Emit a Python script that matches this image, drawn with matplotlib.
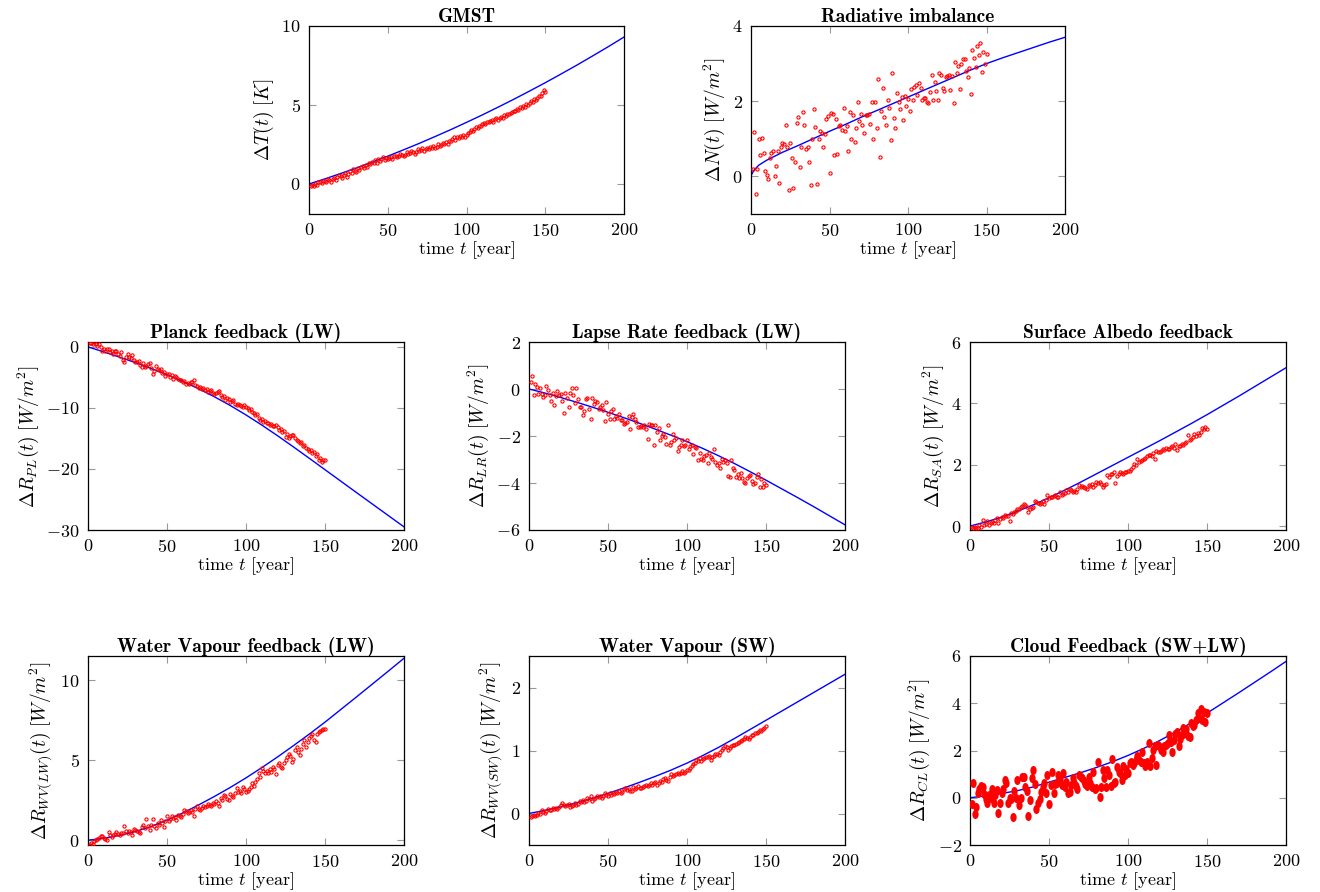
import numpy as np
import matplotlib
matplotlib.use("Agg")
import matplotlib.pyplot as plt
from matplotlib.path import Path

# fonts: computer modern look, shipped with matplotlib
plt.rcParams['font.family'] = 'serif'
plt.rcParams['font.serif'] = ['cmr10']
plt.rcParams['mathtext.fontset'] = 'cm'
plt.rcParams['axes.formatter.use_mathtext'] = True

# years of the scatter data (1..150) and of the model curve
years = np.arange(1, 151)
model_years = np.arange(0, 201, 10)
rad_model_years = [0, 2, 5, 10, 20, 30, 40, 50, 60, 70, 80, 90, 100,
                   110, 120, 130, 140, 150, 160, 170, 180, 190, 200]

# ---- GMST ----
gmst_obs = [-0.15, -0.05, -0.1, 0.0, -0.05, 0.1, 0.15, 0.05, 0.2, 0.2,
            0.15, 0.3, 0.25, 0.1, 0.3, 0.35, 0.25, 0.45, 0.6, 0.5,
            0.35, 0.55, 0.7, 0.45, 0.65, 0.8, 0.7, 0.95, 0.85, 0.75,
            1.0, 0.9, 1.05, 1.15, 1.0, 1.2, 1.1, 1.35, 1.25, 1.4,
            1.3, 1.5, 1.35, 1.6, 1.45, 1.55, 1.7, 1.5, 1.65, 1.6,
            1.65, 1.7, 1.6, 1.75, 1.8, 1.7, 1.8, 1.9, 1.85, 1.8,
            1.85, 2.0, 1.9, 1.95, 2.1, 2.0, 1.9, 2.05, 2.2, 2.1,
            2.15, 2.25, 2.1, 2.2, 2.3, 2.2, 2.35, 2.25, 2.4, 2.3,
            2.35, 2.5, 2.4, 2.45, 2.6, 2.5, 2.65, 2.55, 2.75, 2.7,
            2.85, 2.95, 2.8, 3.0, 2.9, 3.05, 2.95, 3.1, 3.0, 3.1,
            3.2, 3.3, 3.4, 3.35, 3.5, 3.6, 3.55, 3.7, 3.7, 3.8,
            3.85, 3.8, 3.95, 3.9, 4.0, 4.05, 3.95, 4.1, 4.15, 4.05,
            4.2, 4.25, 4.15, 4.35, 4.3, 4.45, 4.4, 4.5, 4.55, 4.65,
            4.6, 4.75, 4.7, 4.85, 4.8, 4.95, 4.9, 5.05, 5.0, 5.15,
            5.25, 5.2, 5.35, 5.3, 5.45, 5.55, 5.6, 5.75, 5.95, 5.85]
gmst_model = [0.0, 0.32, 0.66, 1.01, 1.38, 1.76, 2.16, 2.57, 3.0, 3.44, 3.9,
              4.37, 4.86, 5.36, 5.88, 6.41, 6.96, 7.52, 8.10, 8.69, 9.3]

# ---- radiative imbalance ----
rad_obs = [0.21, 1.18, -0.46, 0.21, 1.0, 0.56, 1.03, 0.62, 0.15, 0.04,
           -0.06, 0.48, 0.63, 0.67, 0.0, 0.28, 0.67, -0.17, 0.78, 0.88,
           0.85, 1.38, 0.77, -0.35, 0.88, 0.49, -0.32, 0.39, 1.41, 1.59,
           0.24, 0.77, 1.7, 1.38, 0.72, 0.77, 0.38, -0.22, 1.0, 1.78,
           1.32, -0.2, 0.99, 1.21, 1.15, 0.78, 1.14, 1.52, 1.6, 0.09,
           1.69, 1.65, 0.56, 1.53, 0.59, 1.34, 1.36, 1.23, 1.81, 1.21,
           1.34, 0.67, 1.71, 0.99, 1.62, 0.92, 1.30, 1.99, 1.47, 1.65,
           1.38, 1.16, 1.64, 1.62, 1.65, 1.40, 1.99, 0.99, 1.98, 1.30,
           2.59, 0.52, 1.73, 2.34, 1.58, 1.38, 2.03, 1.83, 0.98, 2.75,
           1.55, 1.30, 2.23, 1.99, 1.78, 2.11, 1.50, 2.14, 1.88, 2.05,
           1.73, 2.32, 2.04, 2.38, 2.42, 2.16, 2.49, 2.35, 2.04, 2.08,
           2.09, 1.99, 1.94, 2.24, 2.71, 2.03, 2.50, 2.26, 2.03, 2.75,
           2.69, 2.34, 2.26, 2.64, 2.66, 2.70, 2.31, 2.66, 1.94, 3.04,
           2.75, 2.94, 2.33, 2.99, 3.11, 3.12, 2.79, 2.65, 2.87, 2.20,
           3.35, 3.16, 2.91, 3.47, 3.23, 3.54, 2.77, 3.32, 2.98, 3.25]
rad_model = [0.02, 0.17, 0.3, 0.43, 0.64, 0.82, 1.01, 1.2, 1.38, 1.57, 1.75, 1.93,
             2.11, 2.29, 2.47, 2.65, 2.83, 3.0, 3.15, 3.29, 3.43, 3.57, 3.7]

# ---- Planck ----
pl_obs = [0.7, 0.6, 0.55, 0.75, 0.4, 0.2, 0.5, -0.1, -0.65, -0.4,
          -0.75, -0.3, -0.4, -0.9, -0.75, -1.2, -0.6, -0.65, -1.1, -1.45,
          -0.8, -2.2, -2.4, -1.6, -1.2, -1.7, -1.9, -1.3, -2.1, -2.4,
          -2.5, -2.3, -2.9, -3.35, -2.6, -3.35, -3.1, -2.8, -2.7, -3.4,
          -4.4, -3.9, -3.1, -3.6, -3.8, -3.6, -4.3, -4.1, -4.7, -4.5,
          -4.4, -4.9, -4.6, -5.2, -4.8, -5.0, -5.3, -5.5, -5.4, -5.8,
          -5.6, -6.05, -5.9, -6.05, -5.7, -5.8, -5.5, -6.2, -6.4, -6.7,
          -6.6, -6.9, -6.7, -7.1, -6.9, -7.4, -7.2, -7.1, -7.5, -7.7,
          -7.5, -7.4, -7.3, -7.9, -8.2, -8.0, -8.75, -8.4, -8.6, -9.0,
          -8.8, -8.75, -9.3, -9.6, -9.4, -9.6, -9.7, -9.8, -9.5, -9.8,
          -10.0, -10.3, -10.2, -10.65, -10.9, -11.2, -11.0, -11.6, -12.0, -11.8,
          -12.3, -12.1, -12.5, -12.4, -12.8, -12.6, -13.0, -12.9, -12.8, -13.2,
          -13.6, -13.5, -13.9, -13.8, -14.7, -14.3, -15.0, -14.6, -14.5, -14.4,
          -14.9, -15.2, -15.5, -15.8, -15.6, -16.3, -16.0, -16.6, -16.8, -17.0,
          -16.9, -17.4, -17.2, -17.8, -17.6, -18.5, -18.2, -18.8, -18.6, -18.5]
pl_model = [0.0, -0.82, -1.68, -2.58, -3.54, -4.56, -5.66, -6.86, -8.17, -9.6, -11.15,
            -12.81, -14.56, -16.38, -18.24, -20.12, -22.0, -23.88, -25.75, -27.62, -29.49]

# ---- lapse rate ----
lr_obs = [0.31, 0.56, -0.25, 0.21, 0.07, -0.21, 0.04, -0.21, -0.35, -0.25,
          0.11, -0.04, -0.25, -0.52, -0.18, -0.70, -0.28, -0.10, -0.25, -0.21,
          -0.52, -1.03, -0.18, -0.38, -0.75, -0.17, 0.03, -0.24, -0.61, 0.04,
          -0.42, -0.75, -0.75, -1.10, -0.92, -0.42, -0.39, -0.85, -1.27, -0.38,
          -0.65, -0.49, -0.56, -0.85, -0.77, -0.70, -0.89, -1.37, -0.56, -1.06,
          -1.27, -0.92, -0.85, -1.27, -1.13, -1.23, -1.06, -1.34, -1.31, -1.48,
          -1.45, -1.41, -1.13, -1.69, -1.20, -1.08, -1.27, -1.41, -1.62, -1.62,
          -1.59, -1.62, -1.55, -1.69, -2.11, -1.51, -1.55, -1.52, -2.37, -1.55,
          -1.85, -1.65, -2.18, -2.01, -1.93, -2.04, -2.32, -1.55, -2.39, -2.25,
          -1.93, -2.15, -2.07, -2.63, -2.46, -2.39, -2.18, -2.44, -2.39, -2.15,
          -2.55, -2.44, -2.39, -2.75, -2.46, -2.49, -3.03, -2.72, -2.96, -3.03,
          -2.85, -2.82, -3.14, -2.72, -2.89, -2.96, -2.54, -3.10, -3.24, -3.14,
          -3.35, -2.96, -3.10, -3.03, -3.17, -3.70, -3.73, -3.03, -3.38, -3.45,
          -3.75, -3.62, -3.80, -3.59, -3.80, -3.94, -4.01, -3.80, -3.70, -3.66,
          -3.90, -4.04, -3.99, -3.73, -3.62, -4.15, -3.85, -4.18, -3.99, -4.08]
lr_model = [0.0, -0.17, -0.36, -0.56, -0.77, -0.99, -1.22, -1.46, -1.71, -1.97, -2.24,
            -2.53, -2.84, -3.17, -3.52, -3.88, -4.25, -4.62, -5.0, -5.39, -5.78]

# ---- surface albedo ----
sa_obs = [-0.04, -0.05, -0.02, -0.06, -0.08, 0.02, -0.03, 0.19, 0.03, 0.08,
          0.16, 0.03, 0.1, 0.14, 0.11, 0.2, 0.25, 0.11, 0.22, 0.3,
          0.27, 0.36, 0.33, 0.32, 0.17, 0.41, 0.38, 0.46, 0.5, 0.57,
          0.55, 0.63, 0.66, 0.73, 0.68, 0.63, 0.46, 0.57, 0.6, 0.63,
          0.82, 0.78, 0.76, 0.72, 0.76, 0.8, 0.71, 0.86, 1.0, 0.9,
          0.93, 0.95, 0.98, 1.0, 0.96, 0.95, 1.11, 1.02, 1.06, 1.08,
          1.17, 1.12, 1.22, 1.18, 1.11, 1.15, 1.11, 1.2, 1.33, 1.27,
          1.3, 1.27, 1.25, 1.22, 1.33, 1.3, 1.36, 1.27, 1.33, 1.43,
          1.4, 1.43, 1.38, 1.27, 1.35, 1.38, 1.65, 1.6, 1.7, 1.68,
          1.76, 1.4, 1.62, 1.7, 1.76, 1.72, 1.68, 1.75, 1.76, 1.8,
          1.81, 1.86, 1.92, 2.03, 1.98, 2.19, 2.1, 2.11, 2.15, 2.19,
          2.22, 2.27, 2.3, 2.33, 2.28, 2.37, 2.19, 2.46, 2.4, 2.41,
          2.45, 2.51, 2.48, 2.55, 2.5, 2.51, 2.58, 2.62, 2.55, 2.68,
          2.48, 2.62, 2.6, 2.68, 2.65, 2.7, 2.75, 2.98, 2.8, 2.84,
          2.9, 3.0, 2.95, 3.02, 2.98, 3.05, 3.21, 3.16, 3.22, 3.15]
sa_model = [0.0, 0.13, 0.29, 0.48, 0.69, 0.92, 1.17, 1.43, 1.70, 1.97, 2.24,
            2.51, 2.78, 3.06, 3.34, 3.63, 3.93, 4.23, 4.54, 4.85, 5.16]

# ---- water vapour LW ----
wvlw_obs = [-0.27, -0.2, -0.25, -0.06, 0.02, 0.08, 0.15, 0.25, 0.29, 0.14,
            0.1, 0.0, 0.5, 0.3, 0.21, 0.3, 0.41, 0.5, 0.4, 0.35,
            0.45, 0.42, 0.91, 0.6, 0.45, 0.56, 0.5, 0.35, 0.7, 0.62,
            0.56, 0.5, 0.45, 0.8, 0.97, 0.75, 1.32, 0.87, 0.66, 0.95,
            1.32, 0.9, 0.76, 1.05, 0.97, 1.24, 1.1, 0.83, 1.2, 1.49,
            1.18, 1.3, 1.53, 1.38, 1.45, 1.28, 1.59, 1.5, 1.45, 1.62,
            1.9, 1.8, 1.7, 1.74, 1.86, 1.75, 1.53, 1.95, 2.11, 1.94,
            1.9, 2.0, 2.11, 2.05, 2.11, 2.27, 2.2, 2.11, 2.31, 2.25,
            2.42, 2.35, 2.15, 2.62, 2.5, 2.83, 2.77, 2.6, 2.52, 2.89,
            2.75, 2.69, 2.95, 3.24, 3.04, 3.1, 2.93, 3.35, 3.2, 3.04,
            3.1, 3.18, 3.31, 3.55, 3.4, 3.66, 3.85, 4.17, 3.97, 4.48,
            4.3, 4.21, 4.35, 4.21, 4.42, 4.28, 4.59, 4.45, 4.13, 4.69,
            4.79, 4.6, 4.48, 4.85, 5.0, 5.2, 5.37, 5.25, 4.9, 5.1,
            5.66, 5.79, 5.5, 5.31, 5.7, 5.99, 6.24, 5.83, 6.1, 6.4,
            6.5, 6.65, 6.28, 6.14, 6.6, 6.76, 6.8, 6.9, 6.96, 6.96]
wvlw_model = [0.0, 0.12, 0.30, 0.54, 0.86, 1.25, 1.70, 2.20, 2.73, 3.29, 3.89,
              4.53, 5.2, 5.9, 6.62, 7.37, 8.16, 8.95, 9.75, 10.55, 11.36]

# ---- water vapour SW ----
wvsw_obs = [-0.05, -0.04, -0.03, -0.04, -0.02, 0.01, 0.0, 0.05, 0.03, 0.01,
            0.04, 0.07, 0.06, 0.05, 0.09, 0.07, 0.08, 0.07, 0.11, 0.13,
            0.16, 0.14, 0.12, 0.13, 0.15, 0.11, 0.12, 0.14, 0.16, 0.13,
            0.15, 0.2, 0.18, 0.22, 0.19, 0.2, 0.25, 0.23, 0.27, 0.2,
            0.23, 0.25, 0.27, 0.26, 0.28, 0.25, 0.27, 0.32, 0.29, 0.28,
            0.33, 0.3, 0.32, 0.31, 0.34, 0.33, 0.35, 0.32, 0.34, 0.39,
            0.41, 0.37, 0.39, 0.36, 0.35, 0.42, 0.39, 0.4, 0.43, 0.41,
            0.4, 0.42, 0.44, 0.46, 0.43, 0.45, 0.49, 0.46, 0.48, 0.5,
            0.46, 0.49, 0.51, 0.5, 0.54, 0.56, 0.53, 0.51, 0.58, 0.62,
            0.59, 0.61, 0.63, 0.65, 0.62, 0.64, 0.67, 0.65, 0.66, 0.69,
            0.69, 0.72, 0.76, 0.78, 0.8, 0.85, 0.83, 0.88, 0.83, 0.86,
            0.88, 0.9, 0.89, 0.92, 0.85, 0.9, 0.92, 0.95, 0.94, 0.93,
            0.97, 1.01, 1.04, 1.07, 1.06, 1.01, 1.04, 1.07, 1.08, 1.09,
            1.1, 1.12, 1.14, 1.15, 1.16, 1.18, 1.21, 1.2, 1.18, 1.22,
            1.25, 1.24, 1.28, 1.27, 1.3, 1.33, 1.31, 1.34, 1.36, 1.39]
wvsw_model = [0.0, 0.05, 0.105, 0.17, 0.24, 0.32, 0.405, 0.495, 0.59, 0.69, 0.8,
              0.92, 1.05, 1.19, 1.335, 1.48, 1.626, 1.772, 1.918, 2.064, 2.21]

# ---- cloud ----
cl_obs = [-0.27, 0.63, -0.69, -0.38, 0.2, 0.39, 0.49, 0.44, 0.15, -0.05,
          -0.21, 0.11, -0.03, 0.35, -0.21, 0.1, 0.32, -0.66, -0.24, 0.2,
          0.35, 0.75, 0.63, -0.24, -0.03, -0.07, -0.83, 0.3, 0.01, 0.77,
          -0.31, -0.03, 0.86, 0.89, 0.46, 0.3, -0.77, -0.1, 0.82, 1.17,
          0.6, -0.49, -0.24, -0.07, 0.25, 0.46, 0.63, 0.21, 0.96, -0.27,
          0.54, 1.1, 0.18, 0.58, 0.63, 0.96, 0.77, 0.54, 1.03, 0.45,
          0.68, 0.21, 0.25, 0.54, 0.82, 0.63, 0.49, 0.39, 0.96, 0.89,
          0.82, 0.7, 0.58, 0.5, 0.89, 0.64, 0.47, 1.1, 0.36, 0.4,
          1.53, 0.05, 0.47, 1.17, 0.82, 0.47, 1.17, 0.96, 0.5, 1.63,
          0.64, 0.68, 1.31, 1.1, 1.03, 0.75, 1.34, 0.96, 1.2, 1.03,
          1.45, 1.53, 1.38, 1.45, 1.6, 1.77, 1.6, 1.53, 1.95, 1.45,
          1.34, 1.53, 2.31, 1.34, 1.7, 2.02, 2.19, 1.38, 2.24, 2.14,
          2.02, 1.95, 2.19, 2.24, 2.31, 2.66, 2.34, 1.95, 2.45, 2.7,
          2.8, 2.19, 2.5, 2.66, 2.94, 2.76, 2.9, 2.62, 2.59, 3.15,
          3.04, 3.08, 3.3, 3.6, 3.36, 3.75, 3.29, 3.64, 3.22, 3.57]
cl_model = [0.0, 0.08, 0.18, 0.30, 0.46, 0.66, 0.86, 1.06, 1.28, 1.52, 1.79,
            2.09, 2.42, 2.78, 3.17, 3.58, 4.01, 4.44, 4.88, 5.32, 5.77]

titles = ["GMST", "Radiative imbalance",
          "Planck feedback (LW)", "Lapse Rate feedback (LW)", "Surface Albedo feedback",
          "Water Vapour feedback (LW)", "Water Vapour (SW)", "Cloud Feedback (SW+LW)"]
ylabels = [r"$\Delta T(t)\ [K]$", r"$\Delta N(t)\ [W/m^2]$",
           r"$\Delta R_{PL}(t)\ [W/m^2]$", r"$\Delta R_{LR}(t)\ [W/m^2]$",
           r"$\Delta R_{SA}(t)\ [W/m^2]$", r"$\Delta R_{WV(LW)}(t)\ [W/m^2]$",
           r"$\Delta R_{WV(SW)}(t)\ [W/m^2]$", r"$\Delta R_{CL}(t)\ [W/m^2]$"]
obs = [gmst_obs, rad_obs, pl_obs, lr_obs, sa_obs, wvlw_obs, wvsw_obs, cl_obs]
model = [gmst_model, rad_model, pl_model, lr_model, sa_model, wvlw_model, wvsw_model, cl_model]
ylims = [(-1.9, 10), (-1, 4), (-30, 0.8), (-6, 2), (-0.13, 6),
         (-0.3, 11.5), (-0.5, 2.5), (-2, 6)]
yticks = [[0, 5, 10], [0, 2, 4], [-30, -20, -10, 0], [-6, -4, -2, 0, 2],
          [0, 2, 4, 6], [0, 5, 10], [0, 1, 2], [-2, 0, 2, 4, 6]]

W, H = 1320, 892
fig = plt.figure(figsize=(W / 100, H / 100), dpi=100)

# axes boxes in pixels: left, top, right, bottom
boxes = [(309, 26, 624, 214), (751, 26, 1065, 214),
         (88, 342, 404, 530), (529, 342, 845, 530), (970, 342, 1286, 530),
         (88, 656, 404, 845), (529, 656, 845, 845), (970, 656, 1286, 845)]

# the cloud panel uses tall blobs instead of small rings
circ = Path.unit_circle()
blob = Path(circ.vertices * [0.7, 1.0], circ.codes)

for i in range(8):
    l, t, r, b = boxes[i]
    ax = fig.add_axes([l / W, 1 - b / H, (r - l) / W, (b - t) / H])
    mx = rad_model_years if i == 1 else model_years
    ax.plot(mx, model[i], color='blue', lw=1.0, zorder=2)
    if i == 7:
        ax.plot(years, obs[i], ls='none', marker=blob, color='red', ms=6.5, mew=0, zorder=3)
    else:
        ax.plot(years, obs[i], 'o', mfc='none', mec='red', ms=2.3, mew=0.8, zorder=3)
    ax.set_xlim(0, 200)
    ax.set_ylim(*ylims[i])
    ax.set_xticks([0, 50, 100, 150, 200])
    ax.set_yticks(yticks[i])
    ax.tick_params(direction='in', top=True, right=True, length=5,
                   width=0.8, color='0.6', labelsize=13, pad=6)
    for s in ax.spines.values():
        s.set_linewidth(0.9)
    ax.set_title(titles[i], family='cmb10', fontsize=14, pad=3)
    ax.set_xlabel(r"time $t$ [year]", fontsize=13, labelpad=0)
    ax.set_ylabel(ylabels[i], fontsize=14, labelpad=4)

fig.savefig("out.png", dpi=100)
